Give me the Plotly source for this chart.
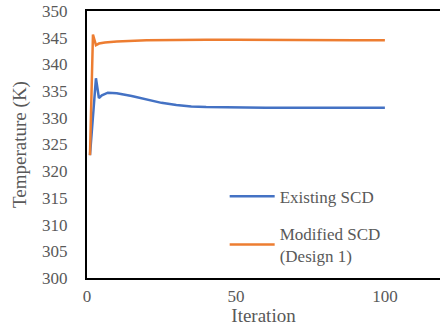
import plotly.graph_objects as go

existing_x = [1, 2, 3, 4, 5, 7, 10, 15, 20, 25, 30, 35, 40, 50, 60, 70, 80, 90, 100]
existing_y = [323.0, 330.0, 337.4, 333.7, 334.2, 334.7, 334.6, 334.1, 333.4, 332.8,
              332.4, 332.1, 332.0, 331.9, 331.9, 331.9, 331.95, 331.9, 331.9]

modified_x = [1, 2, 3, 4, 6, 10, 20, 30, 40, 50, 60, 70, 80, 90, 100]
modified_y = [323.0, 345.6, 343.6, 343.9, 344.1, 344.3, 344.5, 344.6, 344.6, 344.6,
              344.55, 344.5, 344.5, 344.5, 344.5]

x_ticks = [0, 50, 100]
y_ticks = [300, 305, 310, 315, 320, 325, 330, 335, 340, 345, 350]

FONT = "serif"
GRAY = "#595959"

fig = go.Figure()
fig.add_trace(go.Scatter(x=existing_x, y=existing_y, mode="lines", name="Existing SCD",
                         legendgroup="a", line=dict(color="#4472C4", width=2.5)))
fig.add_trace(go.Scatter(x=modified_x, y=modified_y, mode="lines",
                         name="Modified SCD<br>(Design 1)", legendgroup="b",
                         line=dict(color="#ED7D31", width=2.5)))

fig.update_layout(
    width=440, height=326,
    margin=dict(l=87, r=0, t=11, b=48),
    paper_bgcolor="white", plot_bgcolor="white",
    font=dict(family=FONT, size=17, color=GRAY),
    showlegend=True,
    legend=dict(x=0.39, y=0.372, xanchor="left", yanchor="top",
                bgcolor="rgba(0,0,0,0)", font=dict(family=FONT, size=17, color=GRAY),
                tracegroupgap=12, itemwidth=45),
    xaxis=dict(range=[0, 118.5], tickvals=x_ticks, showgrid=False, zeroline=False,
               showline=True, linecolor="black", linewidth=2, mirror=True,
               ticks="", automargin=False, ticklabeloverflow="allow", ticklabelstandoff=2,
               tickfont=dict(family=FONT, size=17, color=GRAY),
               title=dict(text="Iteration", standoff=0,
                          font=dict(family=FONT, size=19, color=GRAY))),
    yaxis=dict(range=[300, 350], tickvals=y_ticks, showgrid=False, zeroline=False,
               showline=True, linecolor="black", linewidth=2, mirror=True,
               ticks="", ticklabelstandoff=14, automargin=False, ticklabeloverflow="allow",
               tickfont=dict(family=FONT, size=17, color=GRAY),
               title=dict(text="Temperature (K)", standoff=10,
                          font=dict(family=FONT, size=19, color=GRAY))),
)

fig.write_html("out.html", config={"displayModeBar": False},
               post_script="document.body.style.margin='0';")
